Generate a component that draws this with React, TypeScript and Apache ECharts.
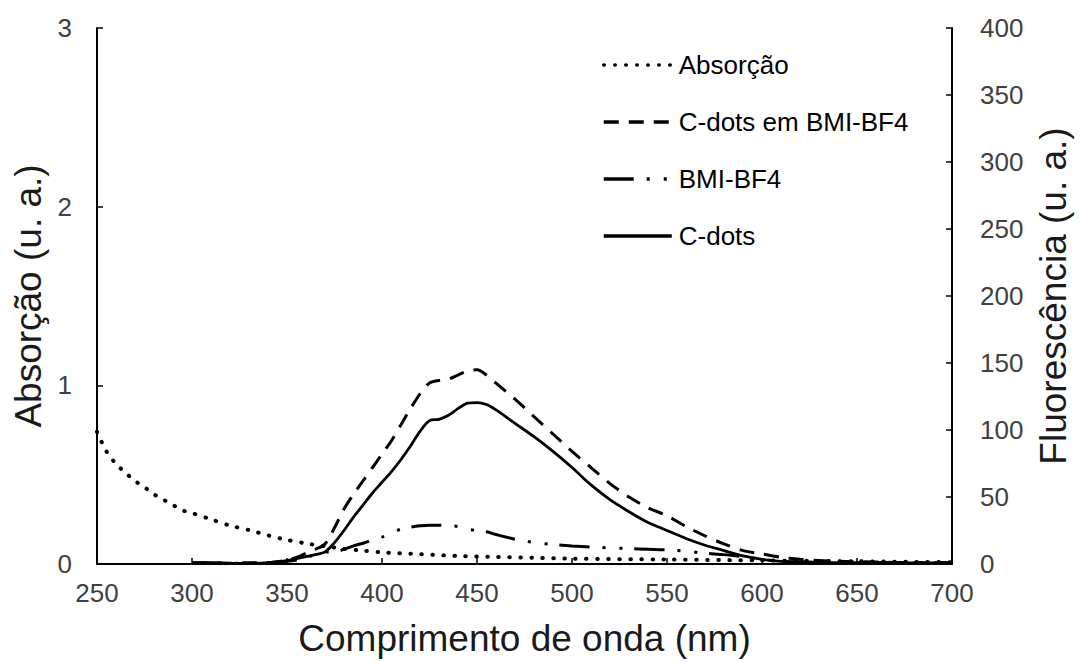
import React, { useEffect, useRef } from "react";
import * as echarts from "echarts";

const absWavelengths = [250, 255, 260, 265, 270, 275, 280, 285, 290, 295, 300, 310, 320, 330, 340, 350, 360, 370, 380, 390, 400, 420, 440, 460, 480, 500, 550, 600, 650, 700];
const absValues = [0.74, 0.63, 0.56, 0.51, 0.465, 0.43, 0.39, 0.36, 0.33, 0.3, 0.285, 0.25, 0.215, 0.19, 0.16, 0.135, 0.115, 0.1, 0.085, 0.075, 0.065, 0.055, 0.045, 0.04, 0.035, 0.03, 0.025, 0.02, 0.015, 0.01];

const flWavelengths = [300, 310, 320, 330, 340, 350, 355, 360, 365, 370, 375, 380, 385, 390, 395, 400, 405, 410, 415, 420, 425, 430, 435, 440, 445, 450, 455, 460, 470, 480, 490, 500, 510, 520, 530, 540, 550, 560, 570, 580, 590, 600, 610, 620, 640, 660, 680, 700];
const cdotsBmi = [1, 1, 0.5, 1, 1, 3, 5, 8, 11, 15, 27, 41, 52, 62, 72, 82, 92, 104, 116, 127, 135, 137, 138, 141, 144, 145, 141, 135, 123, 110, 97, 84, 72, 60, 50, 42, 36, 28, 21, 15, 10, 7.5, 5, 3.5, 2, 1.5, 1, 1];
const bmiBf4 = [0.5, 0.5, 0.5, 0.5, 1, 2, 3, 5, 7, 9, 9, 11, 13.5, 15.5, 18, 20, 23.5, 26, 27.5, 28.5, 29, 29, 28.5, 28, 26, 25, 24, 22, 18.5, 16, 14.5, 13.5, 12.7, 12, 11.5, 11, 10.5, 9.5, 8, 7, 5.5, 3.5, 2, 1.5, 1, 1, 1, 1];
const cdots = [1, 1, 0.5, 0.5, 1, 2.5, 4, 5.5, 7, 9, 16, 25, 35, 44, 53, 61, 69, 78, 88, 99, 107, 108, 111, 116, 120, 120.5, 119, 115, 105, 95, 84, 72, 59, 48, 39, 31, 25, 19, 14, 10, 6, 3.5, 2, 1.5, 1, 1, 0.8, 0.8];

const xTicks = { min: 250, max: 700, interval: 50 };
const leftTicks = { min: 0, max: 3, interval: 1 };
const rightTicks = { min: 0, max: 400, interval: 50 };

const FONT = "'Liberation Sans', Arial, sans-serif";

export default function App() {
  const ref = useRef<HTMLDivElement>(null);
  useEffect(() => {
    if (!ref.current) return;
    const chart = echarts.init(ref.current, undefined, { renderer: "svg" });
    const pair = (xs: number[], ys: number[]) => xs.map((x, i) => [x, ys[i]]);
    const axisLine = { show: true, lineStyle: { color: "#000", width: 2 } };
    const axisTick = { show: true, inside: true, length: 6, lineStyle: { color: "#000", width: 1.5 } };
    const label = { color: "#404040", fontSize: 26, fontFamily: FONT };
    const nameStyle = { color: "#1a1a1a", fontSize: 37, fontFamily: FONT };
    chart.setOption({
      animation: false,
      backgroundColor: "#fff",
      grid: { left: 97, right: 127, top: 28, bottom: 97, containLabel: false },
      legend: {
        orient: "vertical",
        left: 602,
        top: 52,
        padding: 0,
        itemWidth: 68,
        itemHeight: 20,
        itemGap: 31,
        itemStyle: { opacity: 0 },
        lineStyle: { width: 3.5 },
        textStyle: { fontSize: 26, color: "#000", fontFamily: FONT, padding: [0, 0, 0, 2] },
        data: ["Absorção", "C-dots em BMI-BF4", "BMI-BF4", "C-dots"],
      },
      xAxis: {
        type: "value",
        ...xTicks,
        axisLine,
        axisTick,
        splitLine: { show: false },
        axisLabel: { ...label, margin: 16 },
        name: "Comprimento de onda (nm)",
        nameLocation: "middle",
        nameGap: 56,
        nameTextStyle: nameStyle,
      },
      yAxis: [
        {
          type: "value",
          ...leftTicks,
          axisLine,
          axisTick,
          splitLine: { show: false },
          axisLabel: { ...label, margin: 25 },
          name: "Absorção (u. a.)",
          nameLocation: "middle",
          nameGap: 46,
          nameTextStyle: nameStyle,
        },
        {
          type: "value",
          position: "right",
          ...rightTicks,
          axisLine,
          axisTick,
          splitLine: { show: false },
          axisLabel: { ...label, margin: 28 },
          name: "Fluorescência (u. a.)",
          nameLocation: "middle",
          nameGap: 83,
          nameTextStyle: nameStyle,
        },
      ],
      series: [
        {
          name: "Absorção",
          type: "line",
          yAxisIndex: 0,
          data: pair(absWavelengths, absValues),
          symbol: "none",
          smooth: 0.3,
          lineStyle: { color: "#000", width: 4, type: [0.5, 10.5], cap: "round" },
          itemStyle: { color: "#000" },
        },
        {
          name: "C-dots em BMI-BF4",
          type: "line",
          yAxisIndex: 1,
          data: pair(flWavelengths, cdotsBmi),
          symbol: "none",
          smooth: 0.3,
          lineStyle: { color: "#000", width: 3, type: [15, 10] },
          itemStyle: { color: "#000" },
        },
        {
          name: "BMI-BF4",
          type: "line",
          yAxisIndex: 1,
          data: pair(flWavelengths, bmiBf4),
          symbol: "none",
          smooth: 0.3,
          lineStyle: { color: "#000", width: 3, type: [30, 13, 3, 14, 3, 12] },
          itemStyle: { color: "#000" },
        },
        {
          name: "C-dots",
          type: "line",
          yAxisIndex: 1,
          data: pair(flWavelengths, cdots),
          symbol: "none",
          smooth: 0.3,
          lineStyle: { color: "#000", width: 2.8, type: "solid" },
          itemStyle: { color: "#000" },
        },
      ],
    });
    return () => chart.dispose();
  }, []);
  return <div ref={ref} style={{ width: 1080, height: 662, position: "absolute", left: 0, top: 0 }} />;
}
